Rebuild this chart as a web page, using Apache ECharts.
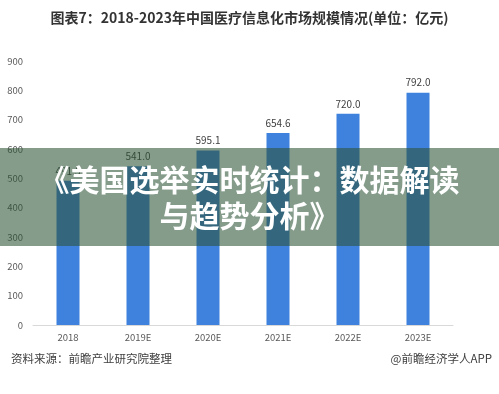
<!DOCTYPE html>
<html>
<head>
<meta charset="utf-8">
<script src="https://cdn.jsdelivr.net/npm/echarts@6/dist/echarts.min.js"></script>
<style>
html,body{margin:0;padding:0;background:#fff;}
#c{width:499px;height:394px;}
</style>
</head>
<body>
<div id="c"></div>
<script>
var categories = ['2018', '2019E', '2020E', '2021E', '2022E', '2023E'];
var marketSize = [491.5, 541.0, 595.1, 654.6, 720.0, 792.0];
var yTicks = [0, 100, 200, 300, 400, 500, 600, 700, 800, 900];

var FONT = '"Noto Sans CJK SC", "Noto Sans", sans-serif';
var chart = echarts.init(document.getElementById('c'), null, {renderer: 'canvas'});
chart.setOption({
  animation: false,
  backgroundColor: '#ffffff',
  title: [
    {text: '图表7：2018-2023年中国医疗信息化市场规模情况(单位：亿元)', left: 'center', top: 6,
     textStyle: {fontFamily: FONT, fontSize: 14, fontWeight: 'bold', color: '#333333'}},
    {text: '资料来源：前瞻产业研究院整理', left: 6, top: 348,
     textStyle: {fontFamily: FONT, fontSize: 11.5, fontWeight: 'normal', color: '#404040'}},
    {text: '@前瞻经济学人APP', right: 2, top: 348,
     textStyle: {fontFamily: FONT, fontSize: 11.5, fontWeight: 'normal', color: '#404040'}}
  ],
  grid: {left: 33, right: 46, top: 61, bottom: 69},
  xAxis: {
    type: 'category', data: categories,
    axisLine: {show: true, lineStyle: {color: '#d9d9d9', width: 1}},
    axisTick: {show: false},
    axisLabel: {fontFamily: FONT, fontSize: 9.5, color: '#595959', margin: 8}
  },
  yAxis: {
    type: 'value', min: yTicks[0], max: yTicks[yTicks.length - 1], interval: 100,
    axisLine: {show: false}, axisTick: {show: false},
    splitLine: {show: false},
    axisLabel: {fontFamily: FONT, fontSize: 9.5, color: '#595959', margin: 10}
  },
  series: [{
    type: 'bar', data: marketSize, barWidth: 23,
    itemStyle: {color: '#3f82dd'},
    label: {show: true, position: 'top', distance: 5, fontFamily: FONT, fontSize: 10, color: '#404040',
      formatter: function (p) { return p.value.toFixed(1); }}
  }],
  graphic: [
    {type: 'rect', left: 0, top: 148, z: 100,
     shape: {width: 499, height: 98},
     style: {fill: 'rgba(45,85,55,0.58)'}},
    {type: 'text', left: 'center', top: 165, z: 101,
     style: {text: '《美国选举实时统计：数据解读', fill: '#ffffff', font: 'bold 30px ' + FONT}},
    {type: 'text', left: 'center', top: 201, z: 101,
     style: {text: '与趋势分析》', fill: '#ffffff', font: 'bold 30px ' + FONT}}
  ]
});
</script>
</body>
</html>
